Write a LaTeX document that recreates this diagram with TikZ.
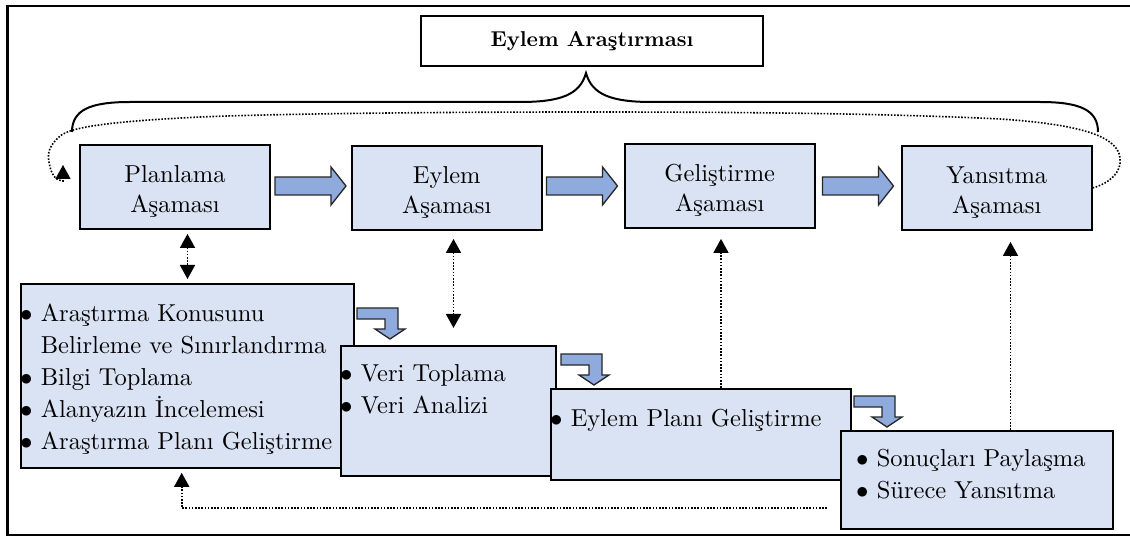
\documentclass[tikz,border=0pt]{standalone}
\usepackage{fontspec}
\setmainfont{lmroman10-regular.otf}[BoldFont=lmroman10-bold.otf]
\usepackage{tikz}
\usetikzlibrary{arrows.meta}
\definecolor{boxblue}{RGB}{218,227,243}
\definecolor{arrowblue}{RGB}{143,170,220}
\newcommand{\bul}{$\bullet$\ }
\newcommand{\bulsp}{\hphantom{$\bullet$\ }}
\newcommand{\up}{\rule{0pt}{26pt}}
\tikzset{st/.style = {rectangle, draw, line width=1.8pt, fill=boxblue, minimum width=190pt, minimum height=84pt, inner sep=0pt, align=center, font=\fontsize{24.5}{30}\selectfont},
           li/.style = {rectangle, draw, line width=1.8pt, fill=boxblue, inner sep=0pt, anchor=north west},
           tx/.style = {inner sep=0pt, anchor=north west, align=left, font=\fontsize{24.5}{32}\selectfont},
           dots/.style = {line width=1.6pt, dash pattern=on 1.6pt off 1.6pt},
           tip/.style = {-{Triangle[width=15pt,length=14pt]}},
           tips/.style = {{Triangle[width=15pt,length=14pt]}-{Triangle[width=15pt,length=14pt]}},
           blockarrow/.pic = {\filldraw[fill=arrowblue, draw=black!85, line width=1.3pt]
             (-35.5,-9) -- (20.5,-9) -- (20.5,-19) -- (35.5,0) -- (20.5,19) -- (20.5,9) -- (-35.5,9) -- cycle;},
           bentarrow/.pic = {\filldraw[fill=arrowblue, draw=black!85, line width=1.3pt]
             (0,0) -- (41,0) -- (41,21) -- (48,21) -- (33,31) -- (18,21) -- (28,21) -- (28,11) -- (0,11) -- cycle;}}
\begin{document}
\begin{tikzpicture}[x=1pt, y=-1pt]
    \useasboundingbox (0,0) rectangle (1130,537);
    \draw[line width=2.5pt] (1130,6) -- (7.7,6) -- (7.7,535) -- (1130,535);
    \node[draw, line width=2pt, minimum width=342pt, minimum height=50pt, inner sep=0pt, font=\bfseries\fontsize{21.5}{26}\selectfont] (title) at (592,41) {Eylem Araştırması};
    % brace under the title
    \draw[line width=2pt] (72,132) .. controls (72,110) and (90,102) .. (130,102) -- (520,102)
      .. controls (560,102) and (580,95) .. (586,73) .. controls (592,95) and (612,102) .. (652,102)
      -- (1040,102) .. controls (1080,102) and (1098,110) .. (1098,132);
    % stages
    \node[st] (plan) at (175,187) {\up Planlama\\Aşaması};
    \node[st] (eyl) at (446.75,188) {\up Eylem\\Aşaması};
    \node[st] (gel) at (719.75,186) {\up Geliştirme\\Aşaması};
    \node[st] (yan) at (996.75,188) {\up Yansıtma\\Aşaması};
    \pic at (310.5,186) {blockarrow};
    \pic at (582,186) {blockarrow};
    \pic at (858,186) {blockarrow};
    % loop back to the start
    \coordinate (lp) at (63,165);
    \draw[dots, tip] (yan.east) .. controls (1110,183) and (1122,172) .. (1120,158)
      .. controls (1118,135) and (1075,124) .. (1000,119) .. controls (880,113) and (720,112) .. (586,112)
      .. controls (420,112) and (270,114) .. (200,117) .. controls (120,121) and (72,126) .. (60,136)
      .. controls (50,145) and (47,152) .. (49,162) .. controls (51,175) and (56,181) .. (63,181) -- (lp);
    % steps
    \node[li, minimum width=333pt, minimum height=184pt] (l1) at (20,283) {};
    \node[tx] (t1) at (20,304) {\bul Araştırma Konusunu\\ \bulsp Belirleme ve Sınırlandırma\\ \bul Bilgi Toplama\\ \bul Alanyazın İncelemesi\\ \bul Araştırma Planı Geliştirme};
    \node[li, minimum width=215pt, minimum height=130pt] (l2) at (340,345) {};
    \node[tx] (t2) at (340,364) {\bul Veri Toplama\\ \bul Veri Analizi};
    \node[li, minimum width=300pt, minimum height=91pt] (l3) at (550,388) {};
    \node[tx] (t3) at (550,409) {\bul Eylem Planı Geliştirme};
    \node[li, minimum width=272pt, minimum height=98pt] (l4) at (840,430) {};
    \node[tx] (t4) at (856,449) {\bul Sonuçları Paylaşma\\ \bul Sürece Yansıtma};
    \pic at (357,308) {bentarrow};
    \pic at (561,354) {bentarrow};
    \pic at (854,396) {bentarrow};
    % links between stages and steps
    \draw[dots, tips, shorten <=4pt, shorten >=4pt] (187.5,0 |- plan.south) -- (187.5,0 |- l1.north);
    \draw[dots, tips, shorten <=8pt, shorten >=17pt] (453.5,0 |- eyl.south) -- (453.5,0 |- l2.north);
    \draw[dots, tip, shorten >=10pt] (721,0 |- l3.north) -- (721,0 |- gel.south);
    \draw[dots, tip, shorten >=11pt] (1010.5,0 |- l4.north) -- (1010.5,0 |- yan.south);
    \coordinate (fb) at (827,508);
    \draw[dots, tip, shorten >=4pt] (fb) -| (181.7,0 |- l1.south);
\end{tikzpicture}
\end{document}
